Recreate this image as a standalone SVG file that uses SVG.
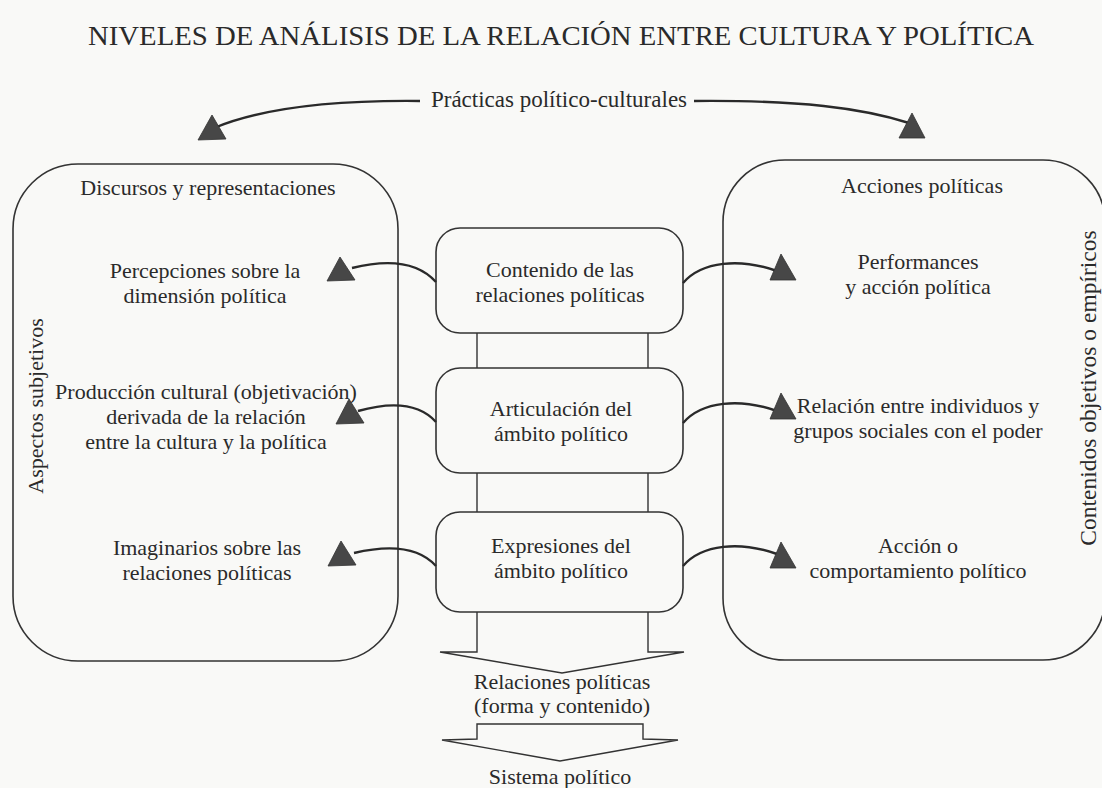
<svg xmlns="http://www.w3.org/2000/svg" width="1102" height="788" viewBox="0 0 1102 788">
<style>
text{font-family:"Liberation Serif","Times New Roman",serif;fill:#2a2a2a;font-size:22px;text-anchor:middle}
.title{font-size:27px}
.box{fill:none;stroke:#333;stroke-width:1.6}
.con{fill:none;stroke:#2a2a2a;stroke-width:2.4}
.thin{fill:none;stroke:#333;stroke-width:1.4}
.head{fill:#474747;stroke:#333;stroke-width:0.8}
</style>
<rect width="1102" height="788" fill="#f9f9f7"/>
<text class="title" x="561" y="45" textLength="946" lengthAdjust="spacingAndGlyphs">NIVELES DE ANÁLISIS DE LA RELACIÓN ENTRE CULTURA Y POLÍTICA</text>

<g id="left-panel">
<rect class="box" x="13" y="164" width="385" height="497" rx="65" ry="65"/>
<text x="208" y="195">Discursos y representaciones</text>
<text x="205" y="278">Percepciones sobre la</text>
<text x="205" y="303">dimensión política</text>
<text x="206" y="399">Producción cultural (objetivación)</text>
<text x="206" y="424">derivada de la relación</text>
<text x="206" y="449">entre la cultura y la política</text>
<text x="207" y="555">Imaginarios sobre las</text>
<text x="207" y="580">relaciones políticas</text>
<text transform="translate(43,406) rotate(-90)">Aspectos subjetivos</text>
</g>

<g id="right-panel">
<rect class="box" x="723" y="160" width="382" height="500" rx="62" ry="62"/>
<text x="922" y="193">Acciones políticas</text>
<text x="918" y="269">Performances</text>
<text x="918" y="294">y acción política</text>
<text x="918" y="413">Relación entre individuos y</text>
<text x="918" y="438">grupos sociales con el poder</text>
<text x="918" y="553">Acción o</text>
<text x="918" y="578">comportamiento político</text>
<text style="font-size:23.5px" transform="translate(1096,388) rotate(-90)">Contenidos objetivos o empíricos</text>
</g>

<g id="node-contenido">
<rect class="box" x="436" y="228" width="247" height="105" rx="24" ry="24"/>
<text x="560" y="277">Contenido de las</text>
<text x="560" y="302">relaciones políticas</text>
</g>
<g id="node-articulacion">
<rect class="box" x="436" y="368" width="247" height="105" rx="24" ry="24"/>
<text x="561" y="416">Articulación del</text>
<text x="561" y="441">ámbito político</text>
</g>
<g id="node-expresiones">
<rect class="box" x="436" y="512" width="247" height="100" rx="24" ry="24"/>
<text x="561" y="553">Expresiones del</text>
<text x="561" y="578">ámbito político</text>
</g>

<g id="node-practicas">
<text style="font-size:23px" x="559" y="107">Prácticas político-culturales</text>
</g>
<g id="node-relaciones">
<text x="562" y="689">Relaciones políticas</text>
<text x="562" y="713">(forma y contenido)</text>
</g>
<g id="node-sistema">
<text x="560" y="784">Sistema político</text>
</g>

<g id="connectors">
<path class="con" d="M420,101 C330,100 262,108 214,128"/>
<polygon class="head" points="212,115 198,140 226,139"/>
<path class="con" d="M694,101 C800,100 862,108 909,123"/>
<polygon class="head" points="912,113 899,138 925,138"/>

<line class="thin" x1="477" y1="333" x2="477" y2="368"/>
<line class="thin" x1="648" y1="333" x2="648" y2="368"/>
<line class="thin" x1="477" y1="473" x2="477" y2="512"/>
<line class="thin" x1="648" y1="473" x2="648" y2="512"/>

<path class="thin" d="M477,612 L477,652 L440,652 L562,673 L684,652 L648,652 L648,612"/>
<path class="thin" d="M477,739 L477,724 L643,724 L643,739 L678,740 L560,761 L442,740 Z"/>

<path class="con" d="M436,282 C418,262 388,259 352,268"/>
<polygon class="head" points="340,257 327,281 355,280"/>
<path class="con" d="M436,422 C418,402 390,402 358,411"/>
<polygon class="head" points="349,399 336,424 364,423"/>
<path class="con" d="M436,566 C418,546 388,545 354,553"/>
<polygon class="head" points="341,541 328,566 356,565"/>

<path class="con" d="M683,283 C702,261 740,258 777,271"/>
<polygon class="head" points="781,254 770,280 796,280"/>
<path class="con" d="M683,423 C702,401 740,398 777,411"/>
<polygon class="head" points="781,393 770,419 796,419"/>
<path class="con" d="M683,566 C702,544 740,541 777,554"/>
<polygon class="head" points="781,542 770,568 796,568"/>
</g>
</svg>
